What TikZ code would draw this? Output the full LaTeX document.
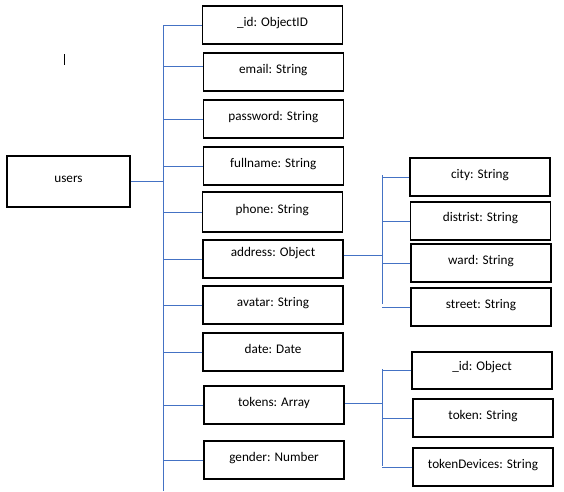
\documentclass[tikz,border=0pt]{standalone}
\usepackage{fontspec}
\setmainfont{Carlito}
\usetikzlibrary{calc}
\definecolor{conn}{HTML}{4472C4}
\begin{document}
\begin{tikzpicture}[x=1pt,y=-1pt,
  fld/.style={draw=black,line width=1.2pt,inner sep=0pt,minimum width=140pt,
    text height=20.5pt,text depth=17.5pt,font=\fontsize{13.2}{16}\selectfont},
  link/.style={draw=conn,line width=1pt}]
\useasboundingbox (0,0) rectangle (564,491);
% root
\node[fld,minimum width=123pt,text height=26.5pt,text depth=24.5pt] (users) at (68.5,181.5) {users};
% fields
\node[fld] (id) at (272.5,25) {\_id: ObjectID};
\node[fld] (email) at (273.3,72) {email: String};
\node[fld] (password) at (273.3,119) {password: String};
\node[fld] (fullname) at (273.3,166) {fullname: String};
\node[fld,text height=21.5pt,text depth=18.5pt] (phone) at (272.3,212) {phone: String};
\node[fld,text height=16.5pt,text depth=21.5pt] (address) at (273,259) {address: Object};
\node[fld] (avatar) at (273,305) {avatar: String};
\node[fld] (date) at (273,352) {date: Date};
\node[fld] (tokens) at (274,405) {tokens: Array};
\node[fld] (gender) at (274,460) {gender: Number};
% address children
\node[fld] (city) at (480,177) {city: String};
\node[fld,text height=19.5pt,text depth=18.5pt] (distrist) at (480.5,221) {distrist: String};
\node[fld] (ward) at (481,263) {ward: String};
\node[fld] (street) at (481,307) {street: String};
% tokens children
\node[fld,text height=18.5pt,text depth=18.5pt] (tid) at (482,370.5) {\_id: Object};
\node[fld] (token) at (483,418) {token: String};
\node[fld] (tdev) at (483,467) {tokenDevices: String};
% trunks
\coordinate (tt) at (163,25);
\coordinate (tb) at (163,491);
\coordinate (a1) at (382,175);
\coordinate (a2) at (382,304);
\coordinate (k1) at (382,369);
\coordinate (k2) at (382,466);
\draw[link] (tt) -- (tb);
\draw[link] (users.east) -- (users.east -| tt);
\foreach \n in {id,password,fullname,phone,address,avatar,date,tokens,gender}
  \draw[link] (\n.west) -- (\n.west -| tt);
\draw[link] ($(email.west)+(0,-6)$) -- ($(email.west -| tt)+(0,-6)$);
% address subtree
\draw[link] (a1) -- (a2);
\draw[link] ($(address.east)+(0,-4)$) -- ($(address.east -| a1)+(0,-4)$);
\foreach \n in {city,distrist,ward,street}
  \draw[link] (\n.west) -- (\n.west -| a1);
% tokens subtree
\draw[link] (k1) -- (k2);
\draw[link] ($(tokens.east)+(0,-2)$) -- ($(tokens.east -| k1)+(0,-2)$);
\foreach \n in {tid,token,tdev}
  \draw[link] (\n.west) -- (\n.west -| k1);
% stray cursor mark
\draw[black,line width=1pt] (64,54) -- (64,65);
\end{tikzpicture}
\end{document}
